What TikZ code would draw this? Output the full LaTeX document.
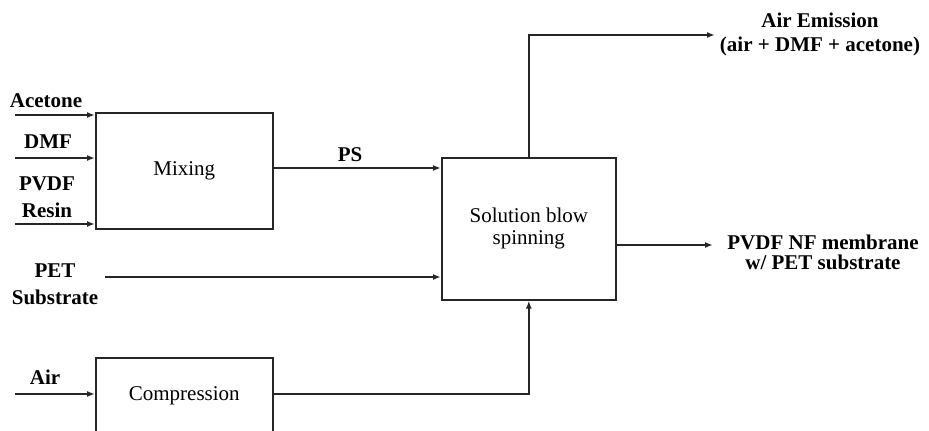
\documentclass[tikz,border=0pt]{standalone}
\usepackage{fontspec}
\setmainfont{Liberation Serif}
\usetikzlibrary{arrows.meta}
\begin{document}
\begin{tikzpicture}[x=1pt,y=-1pt,
  proc/.style={draw=black!85,line width=1.6pt,anchor=north west,inner sep=0pt,font=\fontsize{21}{25}\selectfont,align=center},
  lbl/.style={font=\fontsize{21}{25}\selectfont\bfseries,align=center,inner sep=0pt},
  flow/.style={draw=black!85,line width=1.6pt,-{Latex[length=8pt,width=6pt]}},
  plain/.style={draw=black!85,line width=1.6pt}]
\useasboundingbox (0,0) rectangle (929,431);
% process boxes
\node[proc,minimum width=177pt,minimum height=116pt] (mix) at (95,112) {Mixing};
\node[proc,minimum width=174pt,minimum height=142pt] (sol) at (441,157) {Solution blow\\[-3pt]spinning};
\node[proc,minimum width=177pt,minimum height=75pt] (comp) at (95,357) {Compression};
% labels
\node[lbl] (acet) at (46,101) {Acetone};
\node[lbl] (dmf) at (48,142) {DMF};
\node[lbl,font=\fontsize{21}{27}\selectfont\bfseries] (pvdf) at (47,197) {PVDF\\Resin};
\node[lbl,font=\fontsize{21}{27}\selectfont\bfseries] (pet) at (55,284) {PET\\Substrate};
\node[lbl] (air) at (45,377) {Air};
\node[lbl] (ps) at (350,155) {PS};
\node[lbl,font=\fontsize{21}{24}\selectfont\bfseries] (emis) at (820,34) {Air Emission\\(air + DMF + acetone)};
\node[lbl,font=\fontsize{21}{20}\selectfont\bfseries] (prod) at (823,252) {PVDF NF membrane\\w/ PET substrate};
% free ends
\coordinate (acetS) at (15,115);
\coordinate (dmfS) at (15,158);
\coordinate (pvdfS) at (15,224);
\coordinate (petS) at (105,277);
\coordinate (airS) at (15,394);
\coordinate (emisE) at (715,35);
\coordinate (prodE) at (713,245);
% connectors
\draw[flow] (acetS) -- (mix.west |- acetS);
\draw[flow] (dmfS) -- (mix.west |- dmfS);
\draw[flow] (pvdfS) -- (mix.west |- pvdfS);
\draw[flow] (mix.east |- 0,168) -- (sol.west |- 0,168);
\draw[flow] (petS) -- (sol.west |- petS);
\draw[flow] (airS) -- (comp.west |- airS);
\draw[flow] (comp.east |- airS) -| (sol.south);
\draw[flow] (sol.north) |- (emisE);
\draw[flow] (sol.east |- prodE) -- (prodE);
\end{tikzpicture}
\end{document}
